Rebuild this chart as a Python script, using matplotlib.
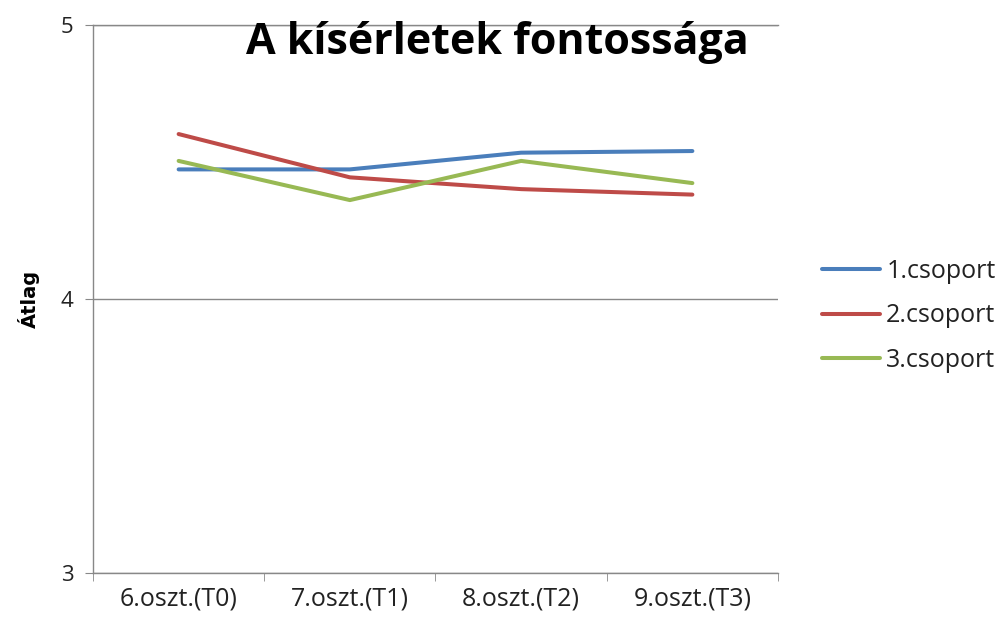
import matplotlib
matplotlib.use("Agg")
import matplotlib.pyplot as plt

categories = ["6.oszt.(T0)", "7.oszt.(T1)", "8.oszt.(T2)", "9.oszt.(T3)"]
series_names = ["1.csoport", "2.csoport", "3.csoport"]
group1 = [4.473, 4.473, 4.534, 4.540]
group2 = [4.602, 4.444, 4.401, 4.381]
group3 = [4.504, 4.361, 4.504, 4.423]
colors = ["#4A7EBB", "#BE4B48", "#98B954"]
yticks = [3, 4, 5]

plt.rcParams['font.family'] = ['Open Sans', 'DejaVu Sans']

fig = plt.figure(figsize=(10.04, 6.2), dpi=100)
ax = fig.add_axes([93/1004, 1-573/620, (778-93)/1004, (573-25)/620])

x = list(range(len(categories)))
for vals, name, c in zip([group1, group2, group3], series_names, colors):
    ax.plot(x, vals, color=c, lw=2.9, label=name, solid_capstyle='round', zorder=3)

ax.set_xlim(-0.5, len(categories) - 0.5)
ax.set_ylim(3, 5)
ax.set_yticks(yticks)
ax.set_yticklabels([str(t) for t in yticks], fontsize=16, color="#222222")
ax.set_xticks(x)
ax.set_xticklabels(categories, fontsize=18, color="#222222")
ax.set_xticks([i - 0.5 for i in range(len(categories) + 1)], minor=True)
ax.tick_params(axis='x', which='major', length=0, pad=10)
ax.tick_params(axis='x', which='minor', length=6, color="#888888", direction='out')
ax.tick_params(axis='y', length=6, color="#888888", direction='out', pad=8)

for s in ["top", "right"]:
    ax.spines[s].set_visible(False)
for s in ["left", "bottom"]:
    ax.spines[s].set_color("#888888")
    ax.spines[s].set_linewidth(1.0)

ax.grid(axis='y', color="#888888", lw=1.0)
ax.set_axisbelow(True)
ax.axhline(5, color="#888888", lw=1.0, zorder=1, clip_on=False)

ax.set_ylabel("Átlag", fontsize=14, fontweight='bold', labelpad=15,
              family=['DejaVu Sans Condensed', 'DejaVu Sans'])

fig.text(497/1004, 1-54/620, "A kísérletek fontossága", fontsize=31, fontweight='bold',
         ha='center', va='baseline', color="#000000")

leg = ax.legend(loc='center left', bbox_to_anchor=(805/1004, 1-316/620),
                bbox_transform=fig.transFigure, frameon=False, fontsize=18,
                handlelength=2.3, labelspacing=0.78, handletextpad=0.25,
                borderpad=0.2)
for t in leg.get_texts():
    t.set_color("#222222")

fig.savefig("out.png", dpi=100)
